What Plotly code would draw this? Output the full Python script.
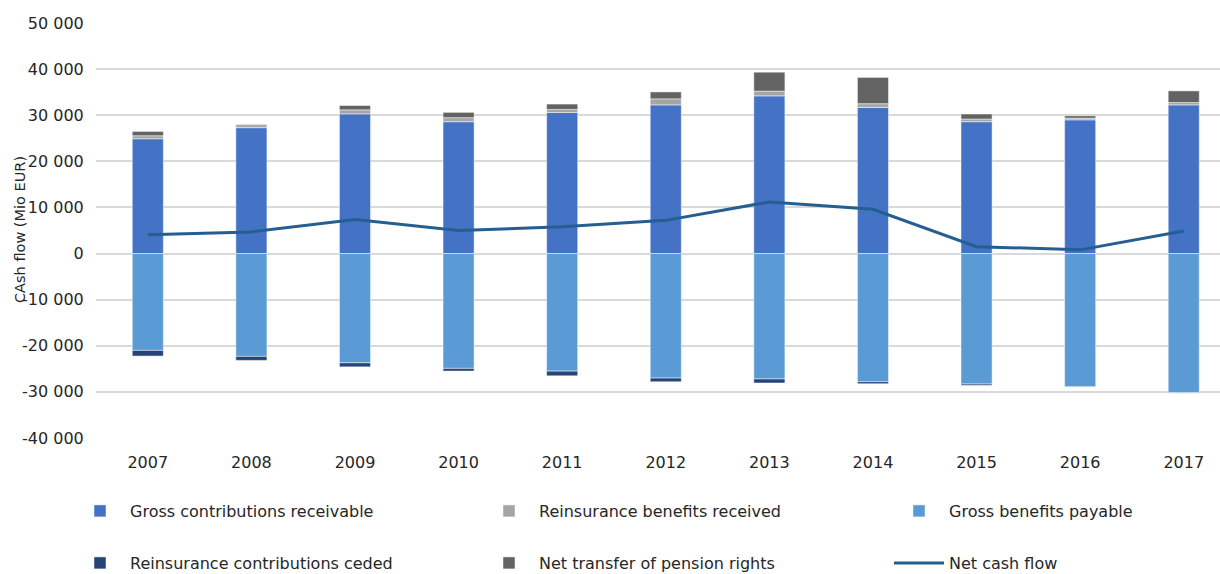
import plotly.graph_objects as go

years = ["2007", "2008", "2009", "2010", "2011", "2012", "2013", "2014", "2015", "2016", "2017"]
gross_contrib = [24900, 27300, 30300, 28600, 30600, 32250, 34200, 31700, 28600, 29000, 32250]
reins_received = [650, 650, 870, 870, 650, 1300, 1020, 800, 580, 370, 500]
gross_benefits = [-21000, -22300, -23700, -24900, -25500, -27000, -27200, -27800, -28300, -28900, -30200]
reins_ceded = [-1230, -870, -870, -580, -1010, -800, -870, -430, -290, -60, -60]
net_transfer = [930, 100, 930, 1150, 1170, 1500, 4110, 5700, 1080, 500, 2530]
net_cash_flow = [4100, 4700, 7400, 5000, 5800, 7200, 11200, 9600, 1500, 800, 4900]

tick_vals = [-40000, -30000, -20000, -10000, 0, 10000, 20000, 30000, 40000, 50000]
tick_text = ["-40 000", "-30 000", "-20 000", "-10 000", "0", "10 000", "20 000", "30 000", "40 000", "50 000"]
y_title = "CAsh flow (Mio EUR)"

FONT = "DejaVu Sans"
TXT = "#262626"
bar_line = dict(color="rgba(255,255,255,0.6)", width=0.8)

fig = go.Figure()
fig.add_trace(go.Bar(x=years, y=gross_contrib, name="Gross contributions receivable",
                     marker=dict(color="#4472c4", line=bar_line), legend="legend"))
fig.add_trace(go.Bar(x=years, y=reins_received, name="Reinsurance benefits received",
                     marker=dict(color="#a5a5a5", line=bar_line), legend="legend2"))
fig.add_trace(go.Bar(x=years, y=gross_benefits, name="Gross benefits payable",
                     marker=dict(color="#5b9bd5", line=bar_line), legend="legend3"))
fig.add_trace(go.Bar(x=years, y=reins_ceded, name="Reinsurance contributions ceded",
                     marker=dict(color="#264478", line=bar_line), legend="legend4"))
fig.add_trace(go.Bar(x=years, y=net_transfer, name="Net transfer of pension rights",
                     marker=dict(color="#636363", line=bar_line), legend="legend5"))
fig.add_trace(go.Scatter(x=years, y=net_cash_flow, name="Net cash flow", mode="lines",
                         line=dict(color="#255e91", width=3), legend="legend6"))


def leg(xpx, ypx):
    return dict(orientation="h", xref="container", yref="container",
                x=xpx / 1220, xanchor="left", y=1 - ypx / 574, yanchor="middle",
                font=dict(family=FONT, size=16, color=TXT),
                bgcolor="rgba(0,0,0,0)", itemwidth=50, visible=True)


fig.update_layout(
    width=1220, height=574,
    margin=dict(l=96, r=0, t=23, b=136),
    paper_bgcolor="white", plot_bgcolor="white",
    barmode="relative", bargap=0.7,
    showlegend=True,
    font=dict(family=FONT, size=16, color=TXT),
    legend=leg(70, 511),
    legend2=leg(479, 511),
    legend3=leg(889, 511),
    legend4=leg(70, 563),
    legend5=leg(479, 563),
    legend6=leg(889, 563),
    xaxis=dict(range=[-0.5, 10.35], showgrid=False, zeroline=False, showline=False,
               ticks="outside", ticklen=10, tickcolor="rgba(0,0,0,0)",
               tickfont=dict(family=FONT, size=16, color=TXT)),
    yaxis=dict(range=[-40000, 50000], tickvals=tick_vals, ticktext=tick_text,
               showgrid=True, gridcolor="#d9d9d9", gridwidth=1.5,
               zeroline=True, zerolinecolor="#d9d9d9", zerolinewidth=1.5,
               showline=False, ticks="outside", ticklen=8, tickcolor="rgba(0,0,0,0)",
               tickfont=dict(family=FONT, size=16, color=TXT)),
    annotations=[dict(text=y_title, textangle=-90, xref="paper", yref="paper",
                      x=(20 - 96) / 1124, y=(438 - 230) / 415, xanchor="center", yanchor="middle",
                      showarrow=False, font=dict(family=FONT, size=14.5, color=TXT))],
)

fig.write_html("out.html")
